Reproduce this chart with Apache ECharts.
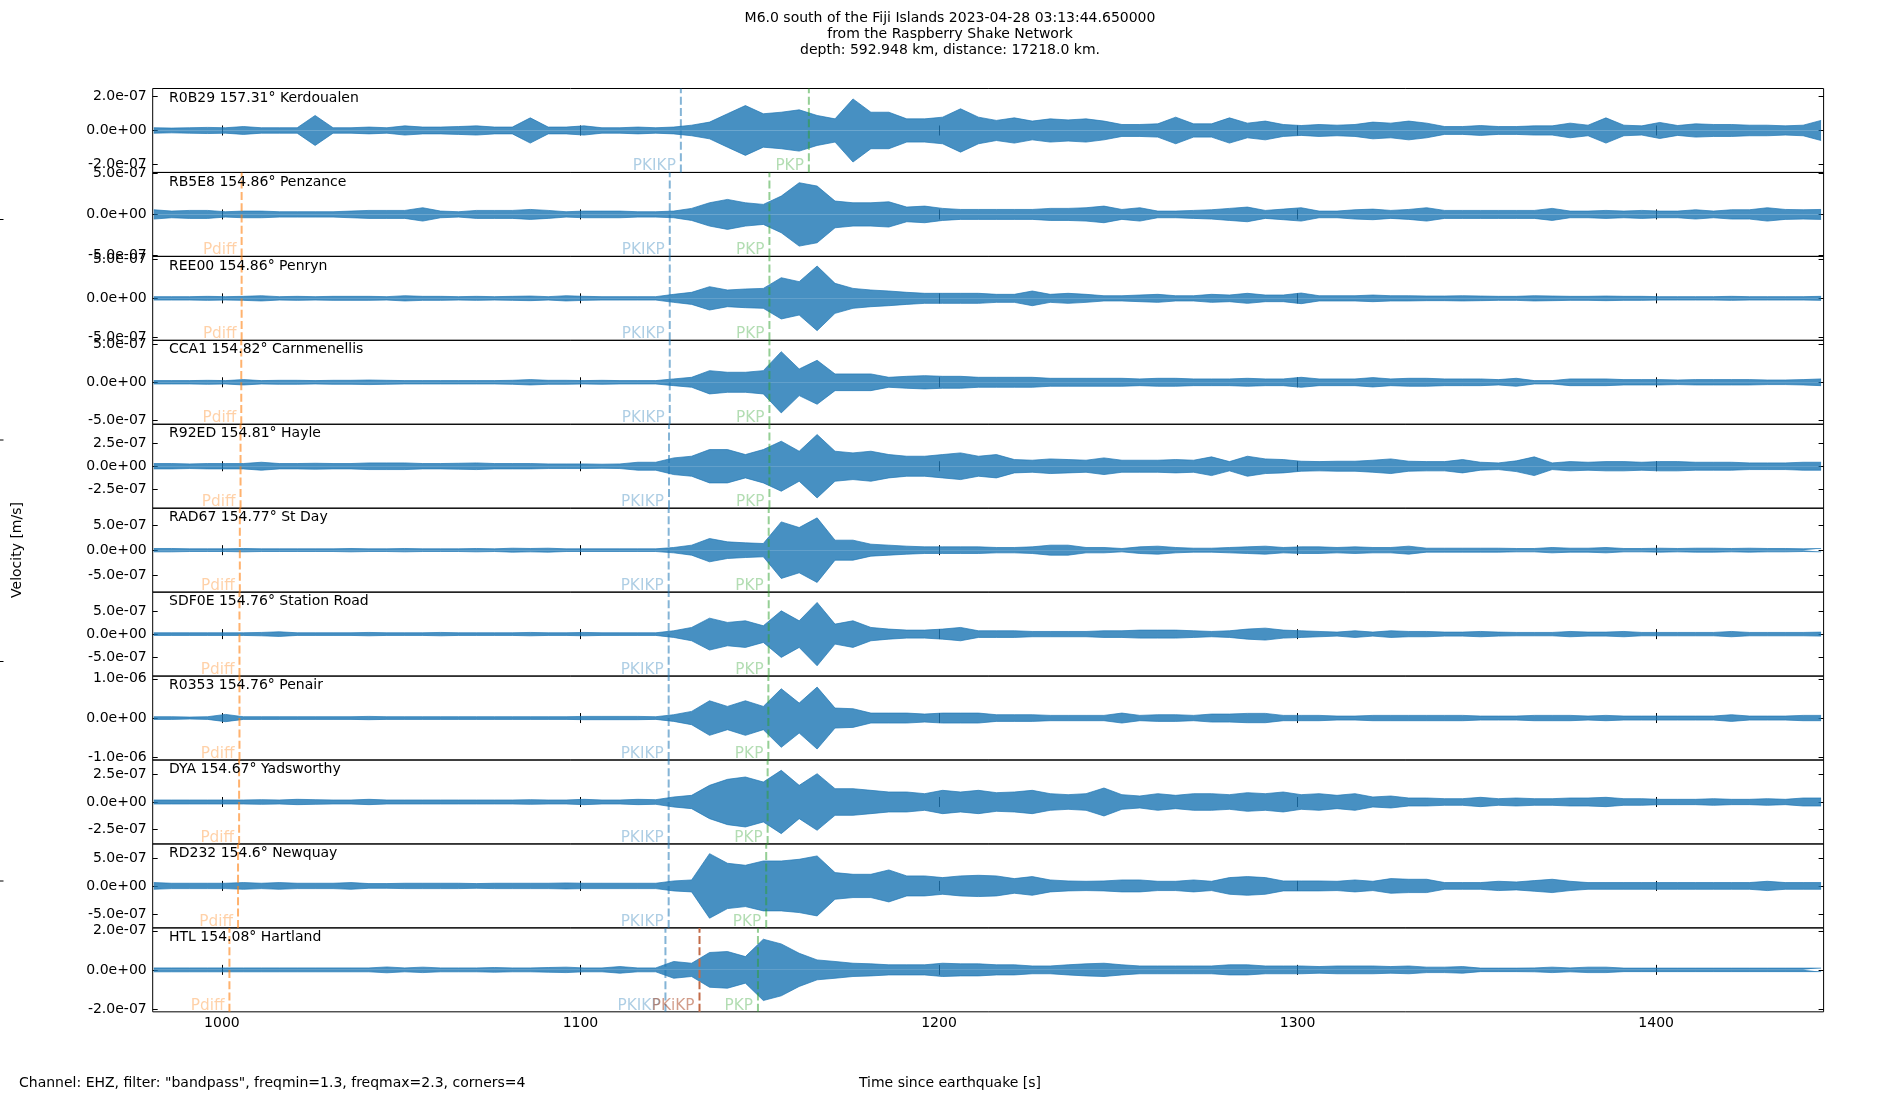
<!DOCTYPE html>
<html>
<head>
<meta charset="utf-8">
<script src="https://cdn.jsdelivr.net/npm/echarts@6/dist/echarts.min.js"></script>
<style>
html,body{margin:0;padding:0;background:#fff;}
#chart{width:1900px;height:1100px;}
</style>
</head>
<body>
<div id="chart"></div>
<script>
// ---------- DATA ----------
const titleLines = [
  'M6.0 south of the Fiji Islands 2023-04-28 03:13:44.650000',
  'from the Raspberry Shake Network',
  'depth: 592.948 km, distance: 17218.0 km.'
];
const stationLabels = [
  'R0B29 157.31° Kerdoualen',
  'RB5E8 154.86° Penzance',
  'REE00 154.86° Penryn',
  'CCA1 154.82° Carnmenellis',
  'R92ED 154.81° Hayle',
  'RAD67 154.77° St Day',
  'SDF0E 154.76° Station Road',
  'R0353 154.76° Penair',
  'DYA 154.67° Yadsworthy',
  'RD232 154.6° Newquay',
  'HTL 154.08° Hartland'
];
// y half-range per panel (units 1e-7 m/s)
const halfRange = [2.46, 5.15, 5.43, 5.48, 4.53, 8.47, 9.2, 10.7, 3.78, 7.5, 2.15];
// y tick values per panel (units 1e-7 m/s)
const yTickStep = [2, 5, 5, 5, 2.5, 5, 5, 10, 2.5, 5, 2];
const xTicks = [1000, 1100, 1200, 1300, 1400];
const xMin = 980.7, xMax = 1446.7;

// envelope bins: time = binStart + binStep*i  (seconds since earthquake)
const binStart = 981, binStep = 5;
// amplitude envelopes (units 1e-7 m/s)
const R0B29 = [0.16,0.14,0.16,0.18,0.16,0.23,0.16,0.16,0.16,0.88, 0.16,0.16,0.2,0.16,0.27,0.2,0.2,0.23,0.27,0.2, 0.2,0.74,0.2,0.2,0.27,0.16,0.16,0.2,0.16,0.2, 0.31,0.49,0.98,1.46,0.98,1.07,1.21,0.88,0.68,1.85, 1.07,1.07,0.68,0.68,0.78,1.27,0.78, 0.59,0.74,0.55,0.68,0.62,0.68,0.55,0.35,0.35,0.39, 0.78,0.39,0.39,0.74,0.43,0.55,0.35,0.29,0.35,0.31, 0.35,0.49,0.43,0.55,0.43,0.23,0.23,0.29,0.23,0.23, 0.27,0.27,0.43,0.31,0.74,0.31,0.27,0.47,0.29,0.39, 0.35,0.35,0.31,0.31,0.27,0.31,0.59];
const RB5E8 = [0.57,0.41,0.49,0.49,0.33,0.41,0.41,0.33,0.33,0.33, 0.33,0.41,0.49,0.49,0.49,0.82,0.41,0.33,0.49,0.49, 0.49,0.61,0.49,0.33,0.41,0.41,0.41,0.33,0.33,0.41, 0.74,1.43,1.84,1.43,1.23,2.25,3.89,3.48,1.64,1.43, 1.43,1.55,0.9,1.02,0.74,0.61,0.61, 0.61,0.61,0.61,0.74,0.74,0.82,1.02,0.61,0.82,0.41, 0.41,0.49,0.57,0.74,0.9,0.49,0.65,0.82,0.41,0.41, 0.57,0.65,0.49,0.61,0.82,0.49,0.49,0.49,0.49,0.49, 0.49,0.74,0.41,0.41,0.49,0.41,0.49,0.41,0.41,0.57, 0.41,0.57,0.57,0.82,0.61,0.57,0.61];
const REE00 = [0.22,0.22,0.22,0.26,0.22,0.26,0.34,0.22,0.26,0.22, 0.26,0.26,0.26,0.22,0.34,0.26,0.26,0.22,0.26,0.22, 0.26,0.3,0.22,0.34,0.26,0.22,0.22,0.22,0.22,0.52, 0.78,1.51,1.08,1.21,1.29,2.67,2.16,4.18,1.94,1.29, 1.08,0.95,0.78,0.65,0.65,0.65,0.65, 0.52,0.52,0.95,0.52,0.65,0.52,0.34,0.34,0.43,0.52, 0.34,0.34,0.52,0.43,0.65,0.43,0.43,0.69,0.34,0.34, 0.34,0.43,0.34,0.34,0.3,0.3,0.34,0.3,0.26,0.26, 0.34,0.3,0.26,0.26,0.3,0.26,0.26,0.22,0.22,0.22, 0.22,0.26,0.22,0.22,0.22,0.22,0.26];
const CCA1 = [0.22,0.22,0.22,0.26,0.22,0.35,0.22,0.26,0.26,0.22, 0.26,0.26,0.3,0.26,0.22,0.22,0.22,0.22,0.22,0.22, 0.26,0.35,0.26,0.26,0.22,0.26,0.22,0.22,0.22,0.44, 0.65,1.52,1.31,1.31,1.52,4.0,1.74,2.87,1.09,1.09, 1.09,0.65,0.78,0.87,0.78,0.78,0.65, 0.65,0.65,0.65,0.52,0.52,0.52,0.52,0.52,0.44,0.52, 0.52,0.44,0.44,0.44,0.52,0.44,0.44,0.65,0.44,0.44, 0.44,0.61,0.44,0.52,0.52,0.44,0.44,0.44,0.35,0.52, 0.22,0.22,0.44,0.44,0.44,0.35,0.35,0.35,0.3,0.35, 0.35,0.35,0.35,0.3,0.3,0.35,0.44];
const R92ED = [0.29,0.29,0.25,0.29,0.29,0.29,0.43,0.29,0.29,0.32, 0.29,0.29,0.36,0.36,0.36,0.29,0.29,0.32,0.36,0.29, 0.29,0.29,0.25,0.25,0.25,0.22,0.25,0.43,0.43,0.9, 1.08,1.8,1.8,1.26,1.8,2.7,1.62,3.42,1.62,1.44, 1.62,1.26,1.08,1.08,1.26,1.44,1.08, 1.26,0.72,0.65,0.79,0.72,0.65,0.9,0.65,0.65,0.65, 0.72,0.65,1.01,0.5,1.08,0.79,0.72,0.54,0.5,0.54, 0.54,0.65,0.79,0.54,0.5,0.5,0.72,0.43,0.36,0.58, 1.01,0.36,0.5,0.43,0.5,0.5,0.43,0.5,0.5,0.43, 0.43,0.43,0.36,0.36,0.36,0.43,0.43];
const RAD67 = [0.34,0.34,0.27,0.27,0.27,0.34,0.27,0.27,0.27,0.27, 0.27,0.34,0.27,0.27,0.34,0.27,0.27,0.27,0.34,0.27, 0.4,0.34,0.4,0.27,0.27,0.27,0.27,0.27,0.27,0.54, 1.01,2.35,1.68,1.48,1.34,5.71,4.57,6.52,2.02,2.02, 1.21,1.01,0.81,0.67,0.67,0.67,0.67, 0.54,0.54,0.67,1.01,1.01,0.54,0.54,0.34,0.67,0.81, 0.54,0.4,0.4,0.54,0.67,0.81,0.54,0.67,0.67,0.54, 0.67,0.54,0.54,0.81,0.4,0.4,0.4,0.4,0.4,0.34, 0.34,0.54,0.4,0.4,0.54,0.34,0.34,0.4,0.34,0.4, 0.4,0.34,0.4,0.34,0.34,0.27,0.34];
const SDF0E = [0.29,0.29,0.29,0.29,0.29,0.29,0.37,0.51,0.29,0.29, 0.29,0.29,0.37,0.29,0.29,0.29,0.37,0.29,0.29,0.29, 0.29,0.37,0.29,0.29,0.37,0.29,0.29,0.29,0.29,0.73, 1.46,3.5,2.56,2.92,1.83,5.11,2.92,6.94,2.19,2.92, 1.46,1.1,0.88,0.88,1.1,1.46,0.73, 0.73,0.73,0.58,0.58,0.58,0.58,0.73,0.73,0.88,0.88, 0.88,0.73,0.58,0.73,1.1,1.31,0.88,0.73,0.58,0.44, 0.73,0.44,0.73,0.58,0.58,0.44,0.44,0.58,0.44,0.37, 0.37,0.37,0.58,0.44,0.44,0.58,0.37,0.37,0.37,0.37, 0.37,0.58,0.37,0.37,0.37,0.37,0.44];
const R0353 = [0.34,0.34,0.25,0.34,0.93,0.34,0.34,0.34,0.34,0.34, 0.34,0.34,0.42,0.34,0.34,0.34,0.34,0.34,0.34,0.34, 0.34,0.34,0.34,0.34,0.42,0.42,0.42,0.42,0.34,0.85, 1.7,4.41,2.97,4.41,2.97,7.47,3.82,7.9,2.55,2.38, 1.27,1.27,1.27,1.02,1.27,1.27,1.27, 0.85,0.85,0.85,0.68,0.68,0.68,0.68,1.27,0.68,0.85, 0.85,0.68,1.02,1.02,1.19,1.19,0.68,0.68,0.68,0.51, 0.51,0.68,0.68,0.68,0.68,0.68,0.68,0.51,0.51,0.51, 0.68,0.68,0.68,0.51,0.68,0.51,0.51,0.51,0.51,0.51, 0.51,0.85,0.51,0.51,0.51,0.68,0.68];
const DYA = [0.18,0.18,0.18,0.18,0.18,0.18,0.21,0.18,0.24,0.21, 0.18,0.18,0.24,0.18,0.18,0.18,0.18,0.18,0.18,0.18, 0.18,0.21,0.18,0.18,0.24,0.18,0.18,0.24,0.21,0.45, 0.6,1.5,2.04,2.25,1.8,2.85,1.5,2.55,1.2,1.2, 1.05,0.9,0.9,0.75,1.05,0.9,1.05, 0.84,0.9,1.05,0.75,0.66,0.75,1.26,0.66,0.54,0.75, 0.6,0.75,0.75,0.66,0.84,0.75,0.9,0.66,0.75,0.6, 0.75,0.45,0.54,0.36,0.36,0.3,0.3,0.42,0.3,0.36, 0.3,0.3,0.36,0.36,0.42,0.3,0.3,0.24,0.24,0.24, 0.3,0.24,0.24,0.3,0.24,0.36,0.36];
const RD232 = [0.6,0.48,0.48,0.48,0.48,0.6,0.48,0.6,0.48,0.48, 0.48,0.6,0.42,0.42,0.48,0.48,0.48,0.48,0.42,0.48, 0.48,0.48,0.48,0.54,0.48,0.48,0.48,0.48,0.48,0.89, 1.07,5.77,4.05,3.69,4.46,4.46,4.76,5.36,2.38,2.08, 2.08,2.86,1.79,1.79,1.49,1.79,1.9, 1.79,1.31,1.67,1.07,0.89,0.83,0.89,1.07,1.07,0.83, 0.83,1.07,0.83,1.49,1.67,1.49,0.89,0.89,0.89,0.83, 1.07,0.83,1.31,1.19,1.19,0.6,0.6,0.6,0.83,0.71, 0.95,1.19,0.83,0.6,0.6,0.6,0.6,0.6,0.6,0.6, 0.6,0.6,0.6,0.83,0.6,0.6,0.6];
const HTL = [0.1,0.1,0.1,0.1,0.1,0.1,0.1,0.1,0.1,0.1, 0.1,0.1,0.1,0.15,0.1,0.14,0.1,0.1,0.1,0.12, 0.1,0.1,0.12,0.14,0.1,0.1,0.17,0.1,0.1,0.43, 0.34,0.89,0.94,0.68,1.57,1.33,0.85,0.51,0.43,0.34, 0.31,0.26,0.26,0.26,0.34,0.31,0.31, 0.26,0.26,0.2,0.2,0.26,0.31,0.34,0.26,0.2,0.2, 0.2,0.2,0.2,0.26,0.26,0.2,0.2,0.2,0.17,0.2, 0.2,0.2,0.17,0.2,0.14,0.14,0.17,0.09,0.09,0.09, 0.1,0.14,0.1,0.14,0.14,0.09,0.09,0.09,0.09,0.09, 0.09,0.09,0.09,0.09,0.09,0.09,0.09];
const envelopes = [R0B29, RB5E8, REE00, CCA1, R92ED, RAD67, SDF0E, R0353, DYA, RD232, HTL];

// phase arrival times (s) per panel; null = not drawn
const pdiffTimes = [null, 1005.5, 1005.5, 1005.4, 1005.2, 1005.0, 1004.9, 1004.9, 1004.8, 1004.5, 1002.1];
const pkikpTimes = [1128.0, 1124.9, 1124.9, 1124.9, 1124.7, 1124.6, 1124.6, 1124.6, 1124.6, 1124.6, 1123.7];
const pkiKpTimes = [null, null, null, null, null, null, null, null, null, null, 1133.2];
const pkpTimes   = [1163.7, 1152.7, 1152.7, 1152.7, 1152.7, 1152.5, 1152.5, 1152.4, 1152.2, 1151.8, 1149.5];

// ---------- STYLE / LAYOUT ----------
const FONT = 'DejaVu Sans';
const GL = 152.7, GW = 1670.9, TOP0 = 88.5, PH = 83.94;
const phases = [
  {name:'Pdiff', times:pdiffTimes, line:'rgba(255,127,14,0.6)', label:'rgba(255,127,14,0.45)'},
  {name:'PKIKP', times:pkikpTimes, line:'rgba(31,119,180,0.55)', label:'rgba(31,119,180,0.45)'},
  {name:'PKiKP', times:pkiKpTimes, line:'#c26b48', label:'rgba(160,50,10,0.6)'},
  {name:'PKP',   times:pkpTimes,   line:'rgba(44,160,44,0.5)', label:'rgba(44,160,44,0.45)'}
];

function fmtSci(v){
  if (Math.abs(v) < 1e-15) return '0.0e+00';
  return v.toExponential(1).replace(/e([+-])(\d)$/, 'e$10$2');
}

const grid = [], xAxis = [], yAxis = [], series = [], graphic = [];
envelopes.forEach((env, k) => {
  const top = TOP0 + k*PH;
  const h = halfRange[k]*1e-7;
  const st = yTickStep[k]*1e-7;
  const yt = [-st, 0, st];
  grid.push({left:GL, top:top, width:GW, height:PH, show:true, borderColor:'#000', borderWidth:1, backgroundColor:'rgba(0,0,0,0)'});
  const tickStyle = {show:true, inside:true, length:5, lineStyle:{color:'#000', width:1}};
  xAxis.push({gridIndex:k, type:'value', min:xMin, max:xMax, position:'bottom',
    axisLine:{show:false}, splitLine:{show:false},
    axisTick:Object.assign({customValues:xTicks}, tickStyle),
    axisLabel:{show:k===envelopes.length-1, customValues:xTicks, formatter:v => String(Math.round(v)),
      margin:5, color:'#000', fontSize:14, fontFamily:FONT}});
  xAxis.push({gridIndex:k, type:'value', min:xMin, max:xMax, position:'top',
    axisLine:{show:false}, splitLine:{show:false},
    axisTick:Object.assign({customValues:xTicks}, tickStyle),
    axisLabel:{show:false}});
  yAxis.push({gridIndex:k, type:'value', min:-h, max:h, position:'left',
    axisLine:{show:false}, splitLine:{show:false},
    axisTick:Object.assign({customValues:yt}, tickStyle),
    axisLabel:{show:true, customValues:yt, formatter:fmtSci, margin:6, color:'#000', fontSize:14, fontFamily:FONT}});
  yAxis.push({gridIndex:k, type:'value', min:-h, max:h, position:'right',
    axisLine:{show:false}, splitLine:{show:false},
    axisTick:Object.assign({customValues:yt}, tickStyle),
    axisLabel:{show:false}});
  const xi = 2*k, yi = 2*k;
  const pos = env.map((a,i) => [binStart + binStep*i, a*1e-7]);
  const neg = env.map((a,i) => [binStart + binStep*i, -a*1e-7]);
  [pos, neg].forEach(d => series.push({
    type:'line', xAxisIndex:xi, yAxisIndex:yi, data:d, showSymbol:false, symbol:'none',
    lineStyle:{color:'#1f77b4', width:0.7}, areaStyle:{color:'#1f77b4', opacity:0.82},
    silent:true, animation:false, z:2
  }));
  phases.forEach(p => {
    const t = p.times[k];
    if (t === null) return;
    series.push({type:'line', xAxisIndex:xi, yAxisIndex:yi, data:[[t,-h],[t,h]],
      showSymbol:false, symbol:'none', lineStyle:{color:p.line, width:2, type:[8,3.3]},
      silent:true, animation:false, z:3});
    series.push({type:'scatter', xAxisIndex:xi, yAxisIndex:yi, data:[[t,-h]], symbolSize:1,
      itemStyle:{color:'rgba(0,0,0,0)'}, silent:true, animation:false, z:4,
      label:{show:true, formatter:p.name, position:[-4.5,-5.5], align:'right', verticalAlign:'middle',
        color:p.label, fontSize:15.3, fontFamily:FONT}});
  });
  graphic.push({type:'text', x:169, y:top+9.5, z:10, style:{text:stationLabels[k], fill:'#000',
    fontSize:14, fontFamily:FONT, textAlign:'left', textVerticalAlign:'middle'}});
});

titleLines.forEach((t,i) => graphic.push({type:'text', x:950, y:18.3+16*i, style:{text:t, fill:'#000',
  fontSize:14, fontFamily:FONT, textAlign:'center', textVerticalAlign:'middle'}}));
graphic.push({type:'text', x:17, y:550, rotation:Math.PI/2, style:{text:'Velocity [m/s]', fill:'#000',
  fontSize:14, fontFamily:FONT, textAlign:'center', textVerticalAlign:'middle'}});
graphic.push({type:'text', x:19, y:1083, style:{text:'Channel: EHZ, filter: "bandpass", freqmin=1.3, freqmax=2.3, corners=4',
  fill:'#000', fontSize:14, fontFamily:FONT, textAlign:'left', textVerticalAlign:'middle'}});
graphic.push({type:'text', x:950, y:1083, style:{text:'Time since earthquake [s]', fill:'#000',
  fontSize:14, fontFamily:FONT, textAlign:'center', textVerticalAlign:'middle'}});
[219.5, 440, 661.5, 881].forEach(y => graphic.push({type:'line', shape:{x1:0, y1:y, x2:3.5, y2:y},
  style:{stroke:'#000', lineWidth:1}}));

const chart = echarts.init(document.getElementById('chart'), null, {renderer:'canvas'});
chart.setOption({
  backgroundColor:'#fff',
  animation:false,
  grid, xAxis, yAxis, series, graphic
});
</script>
</body>
</html>
